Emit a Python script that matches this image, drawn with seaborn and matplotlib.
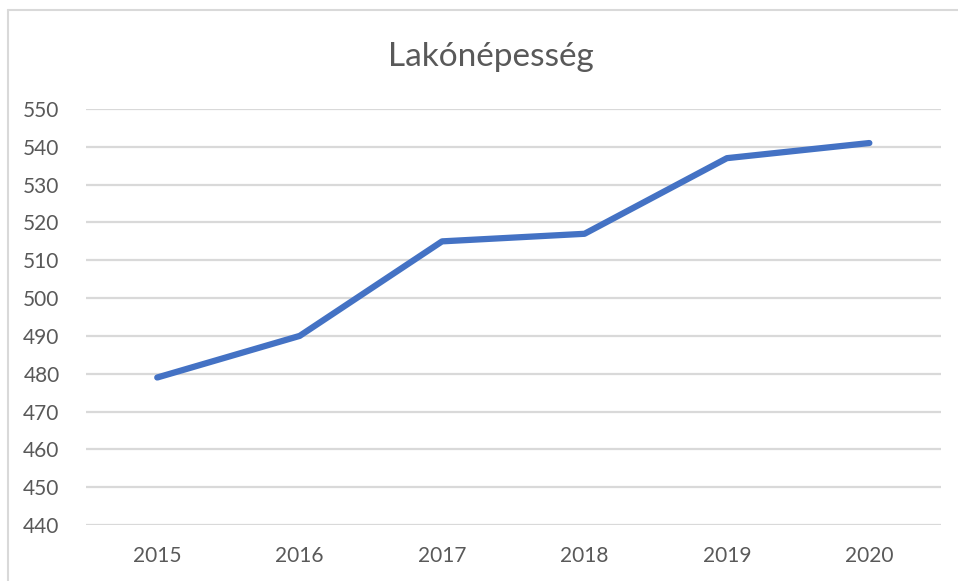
import pandas as pd
import seaborn as sns
import matplotlib.pyplot as plt
from matplotlib.lines import Line2D

# Data
years = [2015, 2016, 2017, 2018, 2019, 2020]
population = [479, 490, 515, 517, 537, 541]
y_ticks = list(range(440, 551, 10))
title = "Lakónépesség"

df = pd.DataFrame({"year": years, "population": population})

sns.set_theme(style="white")
plt.rcParams['font.family'] = ['Lato', 'DejaVu Sans']

text_color = "#595959"
grid_color = "#d9d9d9"
line_color = "#4472C4"

fig = plt.figure(figsize=(9.58, 5.81), dpi=100)
ax = fig.add_axes([0.0898, 0.0964, 0.892, 0.716])

sns.lineplot(data=df, x="year", y="population", ax=ax, color=line_color,
             linewidth=4.5, solid_capstyle="round", solid_joinstyle="round", zorder=3)

ax.set_xlim(2014.5, 2020.5)
ax.set_ylim(440, 550)
ax.set_xticks(years)
ax.set_yticks(y_ticks)
ax.set_xticklabels([str(y) for y in years])
ax.grid(axis="y", color=grid_color, linewidth=1.6, zorder=0)
ax.grid(axis="x", visible=False)
for s in ax.spines.values():
    s.set_visible(False)
ax.tick_params(axis="both", length=0, labelsize=15, labelcolor=text_color)
ax.tick_params(axis="y", pad=19)
ax.tick_params(axis="x", pad=15)
ax.set_xlabel("")
ax.set_ylabel("")

fig.text(0.512, 0.902, title, ha="center", va="center", fontsize=24, color=text_color)

# partial chart frame (top and left edges visible in the crop)
fig.add_artist(Line2D([0.0085, 1.0], [0.982, 0.982], transform=fig.transFigure,
                      color=grid_color, linewidth=1.5))
fig.add_artist(Line2D([0.0085, 0.0085], [0.0, 0.982], transform=fig.transFigure,
                      color=grid_color, linewidth=1.5))

fig.savefig("out.png", dpi=100, facecolor="white")
